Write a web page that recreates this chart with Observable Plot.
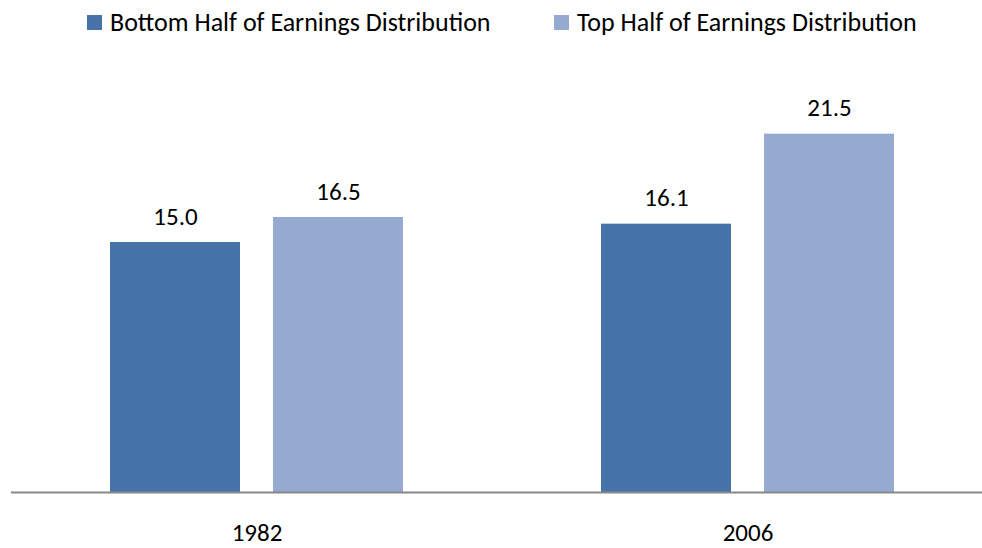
<!DOCTYPE html>
<html>
<head>
<meta charset="utf-8">
<script src="https://cdn.jsdelivr.net/npm/d3@7"></script>
<script src="https://cdn.jsdelivr.net/npm/@observablehq/plot@0.6"></script>
<style>
  html, body { margin: 0; padding: 0; background: #fff; }
  body { width: 982px; height: 548px; overflow: hidden; font-family: Carlito, Lato, "Open Sans", sans-serif; position: relative; }
  #legend { height: 45px; position: relative; font-size: 26px; color: #000; }
  .item { display: flex; align-items: center; position: absolute; top: 6px; height: 32px; line-height: 32px; }
  .sw { width: 15px; height: 15px; margin-right: 8px; }
</style>
</head>
<body>
<div id="legend"></div>
<div id="chart"></div>
<script>
const years = ["1982", "2006"];
const seriesNames = ["Bottom Half of Earnings Distribution", "Top Half of Earnings Distribution"];
const bottomHalf = [15.0, 16.1];
const topHalf = [16.5, 21.5];
const colors = ["#4674A9", "#95A9D1"];

const data = [];
years.forEach((y, i) => {
  data.push({year: y, series: seriesNames[0], value: bottomHalf[i]});
  data.push({year: y, series: seriesNames[1], value: topHalf[i]});
});

// legend
const legend = document.getElementById("legend");
const legendX = [87, 554];
seriesNames.forEach((s, i) => {
  const it = document.createElement("div");
  it.className = "item";
  it.style.left = legendX[i] + "px";
  const sw = document.createElement("div");
  sw.className = "sw";
  sw.style.background = colors[i];
  const t = document.createElement("span");
  t.textContent = s;
  it.appendChild(sw); it.appendChild(t);
  legend.appendChild(it);
});

const chart = Plot.plot({
  width: 982,
  height: 503,
  marginTop: 47,
  marginBottom: 56,
  marginLeft: 11,
  marginRight: 0,
  style: {fontFamily: "Carlito, Lato, 'Open Sans', sans-serif", fontSize: "25px", color: "#000", overflow: "visible"},
  fx: {domain: years, padding: 0, range: [11, 993], label: null},
  x: {domain: seriesNames, paddingInner: 0.2, paddingOuter: 0.597, axis: null},
  y: {domain: [0, 24], axis: null},
  color: {domain: seriesNames, range: colors},
  marks: [
    Plot.barY(data, {fx: "year", x: "series", y: "value", fill: "series"}),
    Plot.text(data, {fx: "year", x: "series", y: "value", text: d => d.value.toFixed(1), lineAnchor: "bottom", dy: -18, fontSize: 25, fill: "#000"}),
    Plot.ruleY([0], {stroke: "#888", strokeWidth: 2}),
    Plot.axisFx({anchor: "bottom", tickSize: 0, tickPadding: 31, fontSize: 25, label: null})
  ]
});
document.getElementById("chart").appendChild(chart);
</script>
</body>
</html>
